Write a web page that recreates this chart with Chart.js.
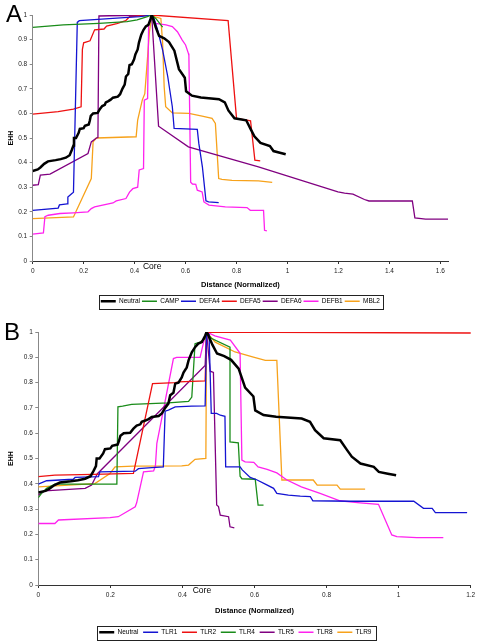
<!DOCTYPE html>
<html>
<head>
<meta charset="utf-8">
<script src="https://cdn.jsdelivr.net/npm/chart.js@4.4.1/dist/chart.umd.min.js"></script>
<style>
  html, body { margin: 0; padding: 0; background: #fff; }
  #boxA { position: absolute; left: 0; top: 0; }
  #boxB { position: absolute; left: 0; top: 318px; }
</style>
</head>
<body>
<div id="boxA"><canvas id="chartA" width="492" height="318"></canvas></div>
<div id="boxB"><canvas id="chartB" width="492" height="326"></canvas></div>
<script>
// ---- data (x = normalized distance, y = EHH) ----
const neutral = [[0,0.366],[0.02,0.372],[0.03,0.38],[0.045,0.395],[0.06,0.405],[0.09,0.41],[0.11,0.414],[0.13,0.42],[0.145,0.43],[0.153,0.45],[0.16,0.47],[0.162,0.5],[0.17,0.5],[0.18,0.52],[0.185,0.537],[0.2,0.54],[0.205,0.55],[0.22,0.555],[0.224,0.57],[0.228,0.59],[0.237,0.6],[0.255,0.602],[0.264,0.618],[0.273,0.63],[0.283,0.635],[0.287,0.645],[0.297,0.65],[0.306,0.656],[0.315,0.664],[0.334,0.668],[0.343,0.678],[0.352,0.7],[0.361,0.717],[0.366,0.75],[0.375,0.76],[0.38,0.796],[0.389,0.8],[0.398,0.82],[0.403,0.84],[0.412,0.86],[0.417,0.888],[0.426,0.92],[0.435,0.94],[0.444,0.954],[0.454,0.96],[0.463,0.985],[0.467,1],
  [0.47,0.993],[0.483,0.95],[0.496,0.915],[0.516,0.905],[0.535,0.89],[0.556,0.855],[0.574,0.78],[0.597,0.745],[0.602,0.69],[0.625,0.672],[0.66,0.665],[0.731,0.658],[0.754,0.645],[0.768,0.612],[0.792,0.58],[0.838,0.572],[0.856,0.535],[0.87,0.507],[0.894,0.48],[0.931,0.467],[0.945,0.447],[0.97,0.44],[0.993,0.434]];

const camp = [[0,0.95],[0.12,0.96],[0.26,0.966],[0.37,0.973],[0.41,0.98],[0.45,0.993],[0.467,1],[0.483,0.986],[0.51,0.951]];
const defa4 = [[0,0.206],[0.1,0.215],[0.105,0.228],[0.135,0.232],[0.138,0.26],[0.155,0.275],[0.16,0.28],[0.175,0.97],[0.183,0.977],[0.3,0.985],[0.42,0.993],[0.467,1],[0.475,0.99],[0.49,0.94],[0.51,0.857],[0.53,0.75],[0.548,0.627],[0.555,0.539],[0.646,0.535],[0.652,0.478],[0.666,0.383],[0.68,0.245],[0.69,0.24],[0.73,0.237]];
const defa5 = [[0,0.597],[0.1,0.607],[0.16,0.617],[0.19,0.627],[0.195,0.86],[0.2,0.887],[0.225,0.895],[0.243,0.94],[0.28,0.943],[0.29,0.955],[0.33,0.965],[0.365,0.977],[0.38,0.993],[0.467,1],[0.767,0.977],[0.8,0.58],[0.84,0.573],[0.855,0.57],[0.872,0.41],[0.893,0.407]];
const defa6 = [[0,0.308],[0.022,0.31],[0.03,0.349],[0.068,0.353],[0.217,0.437],[0.23,0.484],[0.25,0.5],[0.256,0.502],[0.26,0.996],[0.3,0.997],[0.467,1],[0.494,0.548],[0.611,0.464],[0.886,0.383],[1.198,0.281],[1.224,0.276],[1.257,0.272],[1.302,0.25],[1.32,0.244],[1.49,0.244],[1.5,0.175],[1.542,0.17],[1.63,0.17]];
const defb1 = [[0,0.109],[0.042,0.114],[0.048,0.18],[0.061,0.186],[0.107,0.193],[0.16,0.196],[0.217,0.2],[0.23,0.213],[0.243,0.22],[0.315,0.236],[0.328,0.244],[0.366,0.254],[0.38,0.28],[0.393,0.294],[0.412,0.3],[0.418,0.37],[0.435,0.376],[0.438,0.654],[0.451,0.66],[0.455,0.96],[0.467,1],
  [0.483,0.966],[0.523,0.96],[0.548,0.953],[0.568,0.932],[0.587,0.898],[0.6,0.878],[0.611,0.844],[0.613,0.835],[0.62,0.32],[0.627,0.313],[0.64,0.312],[0.646,0.288],[0.665,0.281],[0.672,0.24],[0.692,0.227],[0.756,0.22],[0.841,0.217],[0.854,0.206],[0.906,0.206],[0.91,0.125],[0.919,0.122]];
const mbl2 = [[0,0.172],[0.16,0.179],[0.23,0.335],[0.237,0.484],[0.25,0.5],[0.406,0.505],[0.412,0.573],[0.43,0.654],[0.44,0.68],[0.452,0.844],[0.458,0.93],[0.467,1],
  [0.477,0.993],[0.503,0.986],[0.51,0.885],[0.516,0.708],[0.522,0.627],[0.548,0.602],[0.613,0.6],[0.665,0.589],[0.704,0.58],[0.717,0.559],[0.73,0.335],[0.743,0.332],[0.782,0.328],[0.886,0.326],[0.94,0.32]];

const tlr1 = [[0,0.399],[0.023,0.412],[0.097,0.418],[0.102,0.425],[0.167,0.428],[0.171,0.447],[0.269,0.45],[0.278,0.46],[0.315,0.464],[0.347,0.467],[0.352,0.687],[0.361,0.691],[0.38,0.704],[0.426,0.707],[0.463,0.708],[0.467,1],
  [0.474,0.99],[0.48,0.678],[0.495,0.678],[0.505,0.671],[0.518,0.667],[0.52,0.467],[0.56,0.467],[0.566,0.455],[0.588,0.425],[0.606,0.416],[0.63,0.399],[0.653,0.382],[0.662,0.362],[0.694,0.355],[0.727,0.351],[0.755,0.349],[0.762,0.333],[0.866,0.331],[1.042,0.331],[1.069,0.303],[1.093,0.303],[1.102,0.286],[1.19,0.286]];
const tlr2 = [[0,0.428],[0.046,0.434],[0.153,0.437],[0.264,0.441],[0.317,0.796],[0.38,0.8],[0.39,0.803],[0.463,0.807],[0.467,1],[1.204,0.996]];
const tlr4 = [[0,0.345],[0.009,0.362],[0.023,0.382],[0.046,0.399],[0.218,0.399],[0.221,0.704],[0.234,0.707],[0.259,0.714],[0.361,0.72],[0.417,0.726],[0.426,0.743],[0.435,0.954],[0.449,0.96],[0.463,0.974],[0.467,1],
  [0.48,0.975],[0.532,0.94],[0.532,0.566],[0.555,0.562],[0.56,0.43],[0.565,0.42],[0.602,0.418],[0.61,0.316],[0.625,0.316]];
const tlr5 = [[0,0.355],[0.018,0.372],[0.13,0.382],[0.148,0.395],[0.164,0.44],[0.463,0.868],[0.467,1],[0.477,0.845],[0.486,0.84],[0.495,0.316],[0.5,0.31],[0.505,0.276],[0.528,0.27],[0.532,0.23],[0.544,0.226]];
const tlr8 = [[0,0.243],[0.046,0.243],[0.056,0.257],[0.199,0.266],[0.222,0.27],[0.269,0.309],[0.273,0.325],[0.292,0.447],[0.32,0.451],[0.325,0.47],[0.329,0.56],[0.347,0.69],[0.375,0.895],[0.384,0.9],[0.449,0.9],[0.458,0.955],[0.467,1],
  [0.49,0.985],[0.533,0.968],[0.56,0.916],[0.565,0.494],[0.574,0.487],[0.598,0.485],[0.61,0.467],[0.635,0.457],[0.662,0.443],[0.69,0.415],[0.73,0.388],[0.782,0.362],[0.837,0.333],[0.893,0.325],[0.944,0.319],[0.981,0.198],[0.995,0.191],[1.05,0.187],[1.124,0.187]];
const tlr9 = [[0,0.388],[0.157,0.401],[0.199,0.441],[0.213,0.467],[0.264,0.47],[0.398,0.471],[0.417,0.474],[0.435,0.497],[0.465,0.5],[0.467,1],
  [0.491,0.96],[0.509,0.947],[0.546,0.921],[0.597,0.901],[0.63,0.888],[0.662,0.888],[0.676,0.415],[0.763,0.415],[0.774,0.395],[0.829,0.395],[0.838,0.379],[0.907,0.379]];

const namesA = ['Neutral', 'CAMP', 'DEFA4', 'DEFA5', 'DEFA6', 'DEFB1', 'MBL2'];
const seriesA = [neutral, camp, defa4, defa5, defa6, defb1, mbl2];
const namesB = ['Neutral', 'TLR1', 'TLR2', 'TLR4', 'TLR5', 'TLR8', 'TLR9'];
const seriesB = [neutral, tlr1, tlr2, tlr4, tlr5, tlr8, tlr9];

const yTicks = [0, 0.1, 0.2, 0.3, 0.4, 0.5, 0.6, 0.7, 0.8, 0.9, 1];
const yLabels = ['0', '0.1', '0.2', '0.3', '0.4', '0.5', '0.6', '0.7', '0.8', '0.9', '1'];
const xTicksA = [0, 0.2, 0.4, 0.6, 0.8, 1, 1.2, 1.4, 1.6];
const xLabelsA = ['0', '0.2', '0.4', '0.6', '0.8', '1', '1.2', '1.4', '1.6'];
const xTicksB = [0, 0.2, 0.4, 0.6, 0.8, 1, 1.2];
const xLabelsB = ['0', '0.2', '0.4', '0.6', '0.8', '1', '1.2'];

// ---- styles ----
const colorsA = ['#000000', '#1a8c1a', '#1414d2', '#ee1111', '#800080', '#ff22ee', '#f7a21b'];
const colorsB = ['#000000', '#1414d2', '#ee1111', '#1a8c1a', '#800080', '#ff22ee', '#f7a21b'];
const FONT = '"Liberation Sans", Arial, sans-serif';

const decor = {
  id: 'decor',
  beforeLayout(chart, args, opts) {
    const lg = chart.legend;
    if (lg && !lg._fixedH) {
      const fit = lg.fit;
      lg.fit = function () { fit.call(this); this.height = opts.legendH; };
      lg._fixedH = true;
    }
  },
  afterDraw(chart, args, opts) {
    const ctx = chart.ctx;
    const boxes = chart.legend.legendHitBoxes;
    const l = Math.min(...boxes.map(b => b.left));
    const r = Math.max(...boxes.map(b => b.left + b.width));
    const t = Math.min(...boxes.map(b => b.top));
    const bt = Math.max(...boxes.map(b => b.top + b.height));
    ctx.save();
    ctx.strokeStyle = '#222';
    ctx.lineWidth = 1;
    ctx.strokeRect(Math.round(l - 2) + 0.5, Math.round(t - 3.5) + 0.5, Math.round(r - l + opts.boxExtra), Math.round(bt - t + 7));
    ctx.fillStyle = '#000';
    ctx.font = '24px ' + FONT;
    ctx.textAlign = 'left';
    ctx.textBaseline = 'alphabetic';
    ctx.fillText(opts.letter, opts.letterX, opts.letterY);
    ctx.font = '8.5px ' + FONT;
    ctx.textAlign = 'center';
    ctx.textBaseline = 'middle';
    ctx.fillText('Core', chart.scales.x.getPixelForValue(opts.coreAt), chart.chartArea.bottom + opts.coreDy);
    ctx.restore();
  }
};

function makeChart(id, names, series, colors, xTicks, xLabels, xMax, g) {
  return new Chart(document.getElementById(id), {
    type: 'scatter',
    data: {
      datasets: series.map((s, i) => ({
        label: names[i],
        data: s.map(([x, y]) => ({ x, y })),
        showLine: true,
        borderColor: colors[i],
        backgroundColor: colors[i],
        borderWidth: i === 0 ? 2.5 : 1.3,
        pointRadius: 0,
        tension: 0
      }))
    },
    options: {
      responsive: false,
      animation: false,
      events: [],
      layout: { padding: { left: 0, right: g.padRight, top: g.padTop, bottom: g.padBottom } },
      plugins: {
        tooltip: { enabled: false },
        legend: {
          position: 'bottom',
          fullSize: g.legendFull,
          labels: {
            usePointStyle: true,
            pointStyle: 'line',
            pointStyleWidth: 15,
            boxHeight: 7,
            padding: g.legendPad,
            color: '#000',
            font: { size: 6.5, family: FONT }
          }
        },
        decor: { legendH: g.legendH, boxExtra: g.boxExtra, letter: g.letter, letterX: g.letterX, letterY: 22, coreAt: g.coreAt, coreDy: g.coreDy }
      },
      scales: {
        x: {
          type: 'linear',
          min: 0,
          max: xMax,
          afterFit: s => { s.height = g.xH; },
          afterBuildTicks: s => { s.ticks = xTicks.map(v => ({ value: v })); },
          border: { display: true, color: '#333', width: 1 },
          grid: { drawOnChartArea: false, drawTicks: true, tickLength: 3, color: '#333' },
          ticks: { color: '#222', padding: 3, maxRotation: 0, font: { size: 6.5, family: FONT }, callback: (v, i) => xLabels[i] },
          title: { display: true, text: 'Distance (Normalized)', color: '#000', font: { size: 7.5, weight: 'bold', family: FONT }, padding: { top: 0, bottom: g.titlePad } }
        },
        y: {
          min: 0,
          max: 1,
          afterFit: s => { s.width = g.yW; },
          afterBuildTicks: s => { s.ticks = yTicks.map(v => ({ value: v })); },
          border: { display: true, color: '#888', width: 1 },
          grid: { drawOnChartArea: false, drawTicks: true, tickLength: 3, color: '#888' },
          ticks: { color: '#222', padding: 2.5, font: { size: 6.5, family: FONT }, callback: (v, i) => yLabels[i] },
          title: { display: true, text: 'EHH', color: '#000', font: { size: 7, weight: 'bold', family: FONT }, padding: { top: 6.5, bottom: 0 } }
        }
      }
    },
    plugins: [decor]
  });
}

makeChart('chartA', namesA, seriesA, colorsA, xTicksA, xLabelsA, 1.63,
  { padRight: 44, padTop: 15, padBottom: 6, legendFull: false, legendPad: 2, legendH: 16, boxExtra: 5, xH: 35, yW: 32.7, titlePad: 6.2, letter: 'A', letterX: 6, coreAt: 0.469, coreDy: 6 });
makeChart('chartB', namesB, seriesB, colorsB, xTicksB, xLabelsB, 1.2,
  { padRight: 21.3, padTop: 14, padBottom: 1, legendFull: true, legendPad: 4.7, legendH: 18.7, boxExtra: 7, xH: 39.3, yW: 38.3, titlePad: 9.1, letter: 'B', letterX: 4, coreAt: 0.454, coreDy: 5.7 });
</script>
</body>
</html>
